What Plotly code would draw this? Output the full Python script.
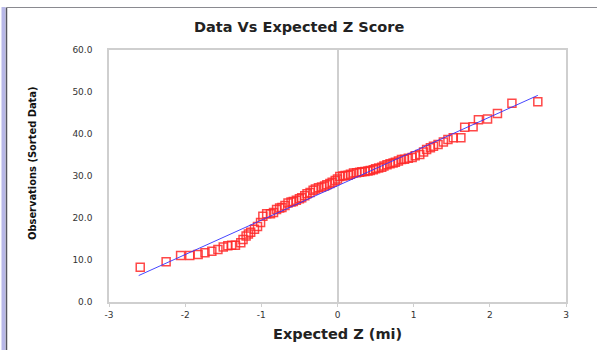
import plotly.graph_objects as go

# ---- data ----
expected_z = [-2.59, -2.25, -2.06, -1.94, -1.83, -1.74, -1.65, -1.57, -1.50, -1.44,
              -1.39, -1.34, -1.27, -1.24, -1.20, -1.17, -1.14, -1.09, -1.05, -1.01,
              -0.98, -0.93, -0.88, -0.84, -0.80, -0.76, -0.73, -0.69, -0.65, -0.61,
              -0.58, -0.54, -0.50, -0.47, -0.43, -0.40, -0.36, -0.32, -0.29, -0.25,
              -0.21, -0.17, -0.14, -0.10, -0.07, -0.03, 0.00, 0.03, 0.07, 0.10,
              0.14, 0.17, 0.21, 0.25, 0.29, 0.32, 0.36, 0.40, 0.43, 0.47,
              0.50, 0.54, 0.58, 0.61, 0.65, 0.69, 0.73, 0.76, 0.80, 0.84,
              0.88, 0.93, 0.98, 1.02, 1.08, 1.13, 1.17, 1.22, 1.26, 1.32,
              1.39, 1.45, 1.52, 1.62, 1.67, 1.78, 1.85, 1.97, 2.10, 2.29, 2.63]
observations = [8.3, 9.6, 11.1, 11.1, 11.3, 11.7, 12.1, 12.5, 13.1, 13.4,
                13.5, 13.5, 14.1, 14.9, 15.7, 16.2, 16.6, 17.3, 18.0, 18.9,
                20.4, 21.0, 21.0, 21.3, 22.0, 22.4, 22.5, 23.0, 23.6, 23.8,
                23.9, 24.2, 24.6, 24.8, 25.3, 25.8, 26.1, 26.6, 26.9, 27.2,
                27.4, 27.6, 27.9, 28.2, 28.5, 28.9, 29.3, 29.9, 30.0, 30.1,
                30.2, 30.4, 30.7, 30.8, 30.9, 31.0, 31.1, 31.2, 31.3, 31.5,
                31.7, 31.9, 32.1, 32.4, 32.7, 32.9, 33.1, 33.3, 33.6, 33.9,
                34.0, 34.2, 34.4, 34.8, 35.1, 35.7, 36.3, 36.7, 37.1, 37.5,
                38.1, 38.7, 39.1, 39.1, 41.6, 41.7, 43.4, 43.6, 44.9, 47.3, 47.7]
fit_z = [-2.61, 2.63]
fit_obs = [6.3, 49.2]

x_ticks = [-3, -2, -1, 0, 1, 2, 3]
y_ticks = [0, 10, 20, 30, 40, 50, 60]

title_text = "Data Vs Expected Z Score"
x_title = "Expected Z (mi)"
y_title = "Observations (Sorted Data)"

# ---- layout geometry (pixels) ----
W, H = 597, 350
L, R, T, B = 109, 31, 50, 48
PW, PH = W - L - R, H - T - B


def px(xp):
    return (xp - L) / PW


def py(yp):
    return (H - B - yp) / PH


GRID = "#cfcfcf"
TXT = "#333333"
tick_font = dict(family="DejaVu Sans, Verdana, sans-serif", size=9, color=TXT)

fig = go.Figure()
fig.add_trace(go.Scatter(
    x=expected_z, y=observations, mode="markers",
    marker=dict(symbol="square-open", size=8, color="rgba(255,40,40,0.85)",
                line=dict(width=1.5, color="rgba(255,40,40,0.85)")),
    showlegend=False, hoverinfo="x+y"))
fig.add_trace(go.Scatter(
    x=fit_z, y=fit_obs, mode="lines",
    line=dict(color="rgba(50,50,255,0.9)", width=1),
    showlegend=False, hoverinfo="skip"))

fig.update_layout(
    width=W, height=H,
    margin=dict(l=L, r=R, t=T, b=B, autoexpand=False),
    paper_bgcolor="white", plot_bgcolor="white",
    xaxis=dict(range=[-3, 3], tickvals=x_ticks, ticktext=[str(v) for v in x_ticks],
               showgrid=False, zeroline=True, zerolinecolor=GRID, zerolinewidth=2,
               showline=True, linecolor=GRID, linewidth=1.5, mirror=True,
               ticks="outside", ticklen=3, tickcolor=GRID, tickwidth=1,
               tickfont=tick_font, fixedrange=True),
    xaxis2=dict(range=[-3, 3], overlaying="x", anchor="y", side="bottom",
                tickvals=x_ticks, showticklabels=False, showgrid=False,
                zeroline=False, showline=False, ticks="inside", ticklen=3,
                tickcolor=GRID, tickwidth=1, fixedrange=True),
    yaxis=dict(range=[0, 60], tickvals=y_ticks, tickformat=".1f",
               showgrid=False, zeroline=False,
               showline=True, linecolor=GRID, linewidth=1.5, mirror=True,
               ticks="", ticklabelstandoff=13, tickfont=tick_font, fixedrange=True),
    yaxis2=dict(range=[0, 60], overlaying="y", anchor="free", position=0.5,
                side="left", tickvals=y_ticks, showticklabels=False,
                showgrid=False, zeroline=False, showline=False,
                ticks="outside", ticklen=5, tickcolor=GRID, fixedrange=True),
    yaxis3=dict(range=[0, 60], overlaying="y", anchor="free", position=0.5,
                side="right", tickvals=y_ticks, showticklabels=False,
                showgrid=False, zeroline=False, showline=False,
                ticks="outside", ticklen=5, tickcolor=GRID, fixedrange=True),
    annotations=[
        dict(text="<b>" + title_text + "</b>", xref="paper", yref="paper",
             x=px(299), y=py(27), showarrow=False, xanchor="center", yanchor="middle",
             font=dict(family="DejaVu Sans, Verdana, sans-serif", size=14.5, color="#222222")),
        dict(text="<b>" + x_title + "</b>", xref="paper", yref="paper",
             x=px(337), y=py(334), showarrow=False, xanchor="center", yanchor="middle",
             font=dict(family="DejaVu Sans, Verdana, sans-serif", size=14.5, color="#222222")),
        dict(text="<b>" + y_title + "</b>", xref="paper", yref="paper",
             x=px(32), y=py(163), showarrow=False, xanchor="center", yanchor="middle",
             textangle=-90,
             font=dict(family="DejaVu Sans Condensed, sans-serif",
                       size=11, color="#111111")),
    ],
    shapes=[
        dict(type="rect", xref="paper", yref="paper", x0=px(1.5), x1=px(5.5),
             y0=py(H), y1=py(7), fillcolor="#b8b8e8", line=dict(width=0), layer="above"),
        dict(type="line", xref="paper", yref="paper", x0=px(6.5), x1=px(6.5),
             y0=py(H), y1=py(7.5), line=dict(color="#555560", width=1.5), layer="above"),
        dict(type="line", xref="paper", yref="paper", x0=px(6.5), x1=px(W),
             y0=py(7.5), y1=py(7.5), line=dict(color="#8a8a90", width=1), layer="above"),
    ],
)

fig.write_html("out.html", config={"displayModeBar": False},
               post_script="document.body.style.margin='0';")
